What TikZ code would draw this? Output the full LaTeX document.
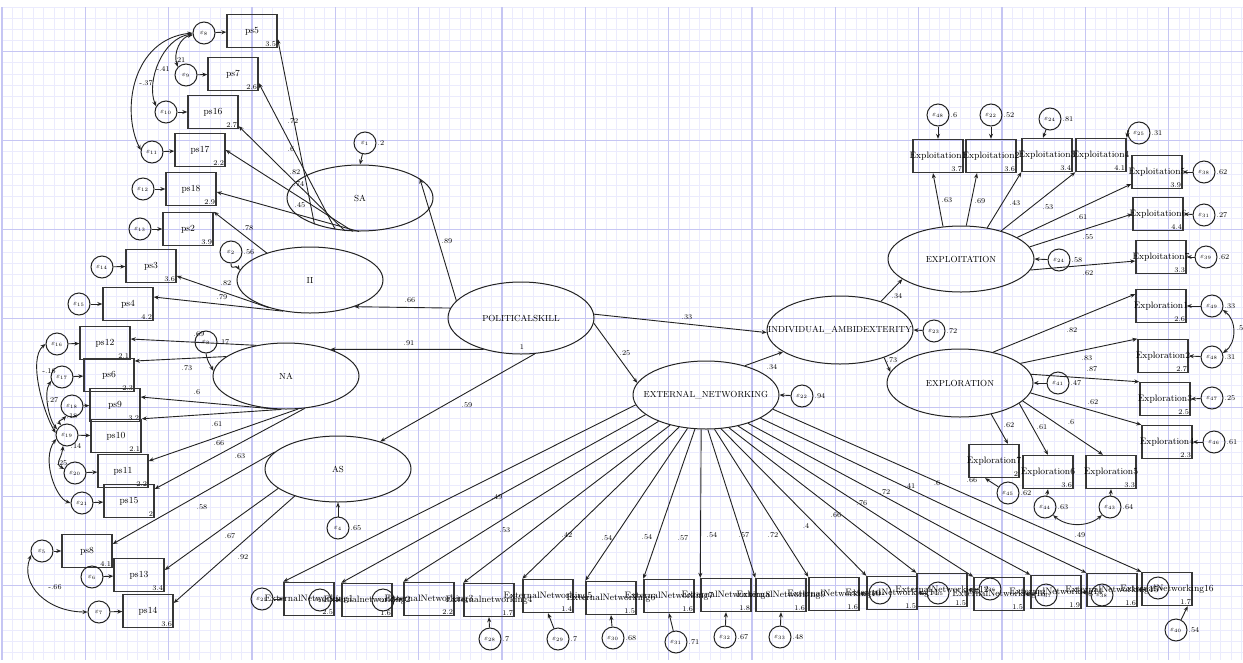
\documentclass[tikz,border=0pt]{standalone}
\usetikzlibrary{shapes.geometric,arrows.meta,calc}
\definecolor{gminor}{RGB}{235,235,253}
\definecolor{gmajor}{RGB}{198,198,243}
\definecolor{linec}{RGB}{35,35,35}
\definecolor{boxc}{RGB}{55,55,55}
\newcommand\mkob[4]{\node[obs,label={[num]south east:#4}] (#1) at (#2) {\makebox[0pt]{#3}};}
\newcommand\mker[4]{\node[err,label={[ev]east:#4}] (#1) at (#2) {$\varepsilon_{#3}$};}
\begin{document}
\begin{tikzpicture}[x=1pt,y=-1pt,
  lat/.style={draw=linec,line width=1pt,ellipse,minimum width=146pt,minimum height=66pt,inner sep=0pt},
  lattxt/.style={font=\fontsize{8.8}{10}\selectfont,inner sep=0pt},
  obs/.style={draw=boxc,line width=1.4pt,rectangle,minimum width=50pt,minimum height=33pt,inner sep=0pt,font=\fontsize{9.3}{10}\selectfont},
  num/.style={anchor=south east,inner sep=1.5pt,font=\fontsize{7.3}{8}\selectfont},
  err/.style={draw=linec,line width=1pt,circle,minimum size=22pt,inner sep=0pt,font=\fontsize{7}{8}\selectfont},
  lnk/.style={draw=linec,line width=0.9pt,-{Stealth[length=5pt,width=4pt]}},
  cov/.style={draw=linec,line width=0.9pt,{Stealth[length=5pt,width=4pt]}-{Stealth[length=5pt,width=4pt]}},
  val/.style={font=\fontsize{7.3}{8}\selectfont,inner sep=1pt},
  ev/.style={font=\fontsize{7.3}{8}\selectfont,inner sep=1pt,anchor=west}
]
\useasboundingbox (0,0) rectangle (1243,662);
\fill[white] (0,0) rectangle (1243,662);
% grid
\foreach \i in {0,...,119} \draw[gminor,line width=0.9pt] ({2+\i*10.41667},7) -- ({2+\i*10.41667},660);
\foreach \j in {0,...,58} \draw[gminor,line width=0.9pt] (2,{7.2+\j*11.125}) -- (1243,{7.2+\j*11.125});
\foreach \i in {0,...,14} \draw[gmajor,line width=1.1pt] ({2+\i*83.3333},7) -- ({2+\i*83.3333},660);
\foreach \k in {0,...,6} \draw[gmajor,line width=1.1pt] (2,{51.7+\k*89}) -- (1243,{51.7+\k*89});

% latent variables
\node[lat] (SA) at (360,198) {}; \node[lattxt] at (SA) {SA};
\node[lat] (II) at (310,280) {}; \node[lattxt] at (II) {II};
\node[lat] (NA) at (286,376) {}; \node[lattxt] at (NA) {NA};
\node[lat] (AS) at (338,469) {}; \node[lattxt] at (AS) {AS};
\node[lat,minimum height=72pt] (PS) at (521,318) {}; \node[lattxt] at (PS) {POLITICALSKILL};
\node[lat,minimum height=68pt] (EN) at (706,395) {}; \node[lattxt] at (EN) {EXTERNAL\_NETWORKING};
\node[lat,minimum height=68pt] (IA) at (840,330) {}; \node[lattxt] at (IA) {INDIVIDUAL\_AMBIDEXTERITY};
\node[lat] (XT) at (961,259) {}; \node[lattxt] at (XT) {EXPLOITATION};
\node[lat,minimum height=68pt] (XR) at (960,383) {}; \node[lattxt] at (XR) {EXPLORATION};

% political skill indicators
\mkob{ps5}{252,31}{ps5}{3.5}
\mkob{ps7}{233,74}{ps7}{2.6}
\mkob{ps16}{213,112}{ps16}{2.7}
\mkob{ps17}{200,150}{ps17}{2.2}
\mkob{ps18}{191,189}{ps18}{2.9}
\mkob{ps2}{188,229}{ps2}{3.9}
\mkob{ps3}{151,266}{ps3}{3.6}
\mkob{ps4}{128,304}{ps4}{4.2}
\mkob{ps12}{105,343}{ps12}{2.1}
\mkob{ps6}{109,375}{ps6}{2.3}
\mkob{ps9}{115,405}{ps9}{3.2}
\mkob{ps10}{116,436}{ps10}{2.1}
\mkob{ps11}{123,471}{ps11}{2.2}
\mkob{ps15}{129,501}{ps15}{2}
\mkob{ps8}{87,551}{ps8}{4.1}
\mkob{ps13}{139,575}{ps13}{3.4}
\mkob{ps14}{148,611}{ps14}{3.6}

\mker{e8}{204,33}{8}{}
\mker{e9}{186,75}{9}{}
\mker{e10}{166,112}{10}{}
\mker{e11}{152,152}{11}{}
\mker{e12}{143,189}{12}{}
\mker{e13}{140,229}{13}{}
\mker{e14}{102,267}{14}{}
\mker{e15}{79,304}{15}{}
\mker{e16}{57,344}{16}{}
\mker{e17}{62,377}{17}{}
\mker{e18}{72,406}{18}{}
\mker{e19}{67,435}{19}{}
\mker{e20}{75,473}{20}{}
\mker{e21}{82,503}{21}{}
\mker{e5}{42,551}{5}{}
\mker{e6}{92,577}{6}{}
\mker{e7}{99,612}{7}{}
\foreach \e/\b in {e8/ps5,e9/ps7,e10/ps16,e11/ps17,e12/ps18,e13/ps2,e14/ps3,e15/ps4,e16/ps12,e17/ps6,e18/ps9,e19/ps10,e20/ps11,e21/ps15,e5/ps8,e6/ps13,e7/ps14}
  \draw[lnk] (\e) -- (\b);

% latent errors
\mker{e1}{365,143}{1}{.2}
\mker{e2}{231,252}{2}{.56}
\mker{e3}{206,342}{3}{.17}
\mker{e4}{338,528}{4}{.65}
\draw[lnk] (e1) -- (SA.north);
\draw[lnk] (e2.south) .. controls +(0,8) and +(-4,-6) .. (II.172);
\draw[lnk] (e3.south) .. controls +(2,10) and +(-4,-8) .. (NA.176);
\draw[lnk] (e4) -- (AS.south);

% SA loadings
\draw[lnk] (SA.210) -- ($(ps5.east)+(0,8)$);
\draw[lnk] (SA.232) -- ($(ps7.east)+(0,9)$);
\draw[lnk] (SA.245) -- ($(ps16.south east)+(0,-3)$);
\draw[lnk] (SA.258) -- (ps17.east);
\draw[lnk] (SA.268) -- ($(ps18.east)+(0,3)$);
\node[val] at (293,121) {.72};
\node[val] at (291,149) {.6};
\node[val] at (295,172) {.82};
\node[val] at (299,184) {.74};
\node[val] at (300,205) {.45};

% II loadings
\draw[lnk] (II.148) -- (ps2.north east);
\draw[lnk] (II.214) -- ($(ps3.east)+(0,10)$);
\draw[lnk] (II.229) -- ($(ps4.east)+(0,-7)$);
\node[val] at (248,228) {.78};
\node[val] at (226,283) {.82};
\node[val] at (222,297) {.79};

% NA loadings
\draw[lnk] (NA.134) -- ($(ps12.east)+(0,-4)$);
\draw[lnk] (NA.162) -- ($(ps6.east)+(0,-14)$);
\draw[lnk] (NA.256) -- ($(ps9.east)+(0,-8)$);
\draw[lnk] (NA.262) -- (ps10.north east);
\draw[lnk] (NA.290) -- ($(ps11.east)+(0,-10)$);
\draw[lnk] (NA.300) -- ($(ps15.east)+(0,-12)$);
\node[val] at (199,334) {.69};
\node[val] at (187,368) {.73};
\node[val] at (197,392) {.6};
\node[val] at (217,424) {.61};
\node[val] at (219,443) {.66};
\node[val] at (240,456) {.63};

% AS loadings
\draw[lnk] (AS.165) -- ($(ps8.east)+(0,-7)$);
\draw[lnk] (AS.198) -- ($(ps13.east)+(0,-5)$);
\draw[lnk] (AS.212) -- ($(ps14.east)+(0,-8)$);
\node[val] at (202,507) {.58};
\node[val] at (230,536) {.67};
\node[val] at (243,557) {.92};

% correlations left
\draw[cov] (e8.190) .. controls +(-12,2) and +(-5,-14) .. (e9.135);
\draw[cov] (e8.185) .. controls +(-30,4) and +(-10,-25) .. (e10.150);
\draw[cov] (e8.180) .. controls +(-60,6) and +(-20,-40) .. (e11.170);
\node[val] at (180,60) {.21};
\node[val] at (163,69) {-.41};
\node[val] at (146,83) {-.37};
\draw[cov] (e16.180) .. controls +(-18,15) and +(-12,-20) .. (e19.170);
\draw[cov] (e17.200) .. controls +(-8,12) and +(-8,-10) .. (e19.150);
\draw[cov] (e18.240) .. controls +(-4,4) and +(-4,-4) .. (e19.120);
\draw[cov] (e19.250) .. controls +(-2,15) and +(-10,-6) .. (e20.160);
\draw[cov] (e19.200) .. controls +(-15,20) and +(-15,-5) .. (e21.180);
\node[val] at (49,371) {-.16};
\node[val] at (53,400) {.27};
\node[val] at (72,416) {.18};
\node[val] at (76,446) {.14};
\node[val] at (62,463) {.25};
\draw[cov] (e5.200) .. controls +(-12,30) and +(-40,0) .. (e7.west);
\node[val] at (55,587) {-.66};

% structural paths
\draw[lnk] (PS.165) -- (SA.18);
\draw[lnk] (PS.172) -- (II.-31);
\draw[lnk] (PS.220) -- (NA.31);
\draw[lnk] (PS.291) -- (AS.33);
\draw[lnk] (PS.3) -- (IA.182);
\draw[lnk] (PS.-4) -- (EN.170);
\draw[lnk] (EN.37) -- (IA.201);
\draw[lnk] (IA.35) -- (XT.199);
\draw[lnk] (IA.-32) -- (XR.171);
\node[val] at (447,241) {.89};
\node[val] at (410,300) {.66};
\node[val] at (409,343) {.91};
\node[val] at (522,347) {1};
\node[val] at (467,405) {.59};
\node[val] at (687,317) {.33};
\node[val] at (625,353) {.25};
\node[val] at (772,367) {.34};
\node[val] at (897,296) {.34};
\node[val] at (892,360) {.73};

\mker{eEN}{802,396}{22}{.94}
\mker{eIA}{934,331}{23}{.72}
\mker{eXT}{1059,260}{24}{.58}
\mker{eXR}{1058,383}{41}{.47}
\draw[lnk] (eEN) -- (EN.east);
\draw[lnk] (eIA) -- (IA.east);
\draw[lnk] (eXT) -- (XT.east);
\draw[lnk] (eXR) -- (XR.east);

% exploitation
\mkob{T1}{938,156}{Exploitation1}{3.7}
\mkob{T2}{991,156}{Exploitation2}{3.6}
\mkob{T3}{1047,155}{Exploitation3}{3.4}
\mkob{T4}{1101,155}{Exploitation4}{4.1}
\mkob{T5}{1157,172}{Exploitation5}{3.9}
\mkob{T6}{1158,214}{Exploitation6}{4.4}
\mkob{T7}{1161,257}{Exploitation7}{3.3}
\mker{eT1}{938,115}{48}{.6}
\mker{eT2}{991,115}{22}{.52}
\mker{eT3}{1050,119}{24}{.81}
\mker{eT4}{1139,133}{25}{.31}
\mker{eT5}{1204,172}{38}{.62}
\mker{eT6}{1204,215}{31}{.27}
\mker{eT7}{1206,257}{39}{.62}
\draw[lnk] (eT1) -- (T1.north);
\draw[lnk] (eT2) -- (T2.north);
\draw[lnk] (eT3) -- ($(T3.north)+(-4,0)$);
\draw[lnk] (eT4.165) -- (T4.north east);
\draw[lnk] (eT5) -- (T5.east);
\draw[lnk] (eT6) -- (T6.east);
\draw[lnk] (eT7) -- (T7.east);
\draw[lnk] (XT.119) -- ($(T1.south)+(-5,0)$);
\draw[lnk] (XT.81) -- ($(T2.south)+(-14,0)$);
\draw[lnk] (XT.50) -- (T3.south west);
\draw[lnk] (XT.35) -- (T4.south west);
\draw[lnk] (XT.21) -- ($(T5.west)+(0,12)$);
\draw[lnk] (XT.10) -- (T6.west);
\draw[lnk] (XT.-9) -- ($(T7.west)+(0,4)$);
\node[val] at (947,200) {.63};
\node[val] at (980,201) {.69};
\node[val] at (1015,203) {.43};
\node[val] at (1048,207) {.53};
\node[val] at (1082,217) {.61};
\node[val] at (1088,237) {.55};
\node[val] at (1088,273) {.62};

% exploration
\mkob{R1}{1161,306}{Exploration1}{2.6}
\mkob{R2}{1163,356}{Exploration2}{2.7}
\mkob{R3}{1165,399}{Exploration3}{2.5}
\mkob{R4}{1167,442}{Exploration4}{2.3}
\mkob{R7}{994,461}{Exploration7}{2}
\mkob{R6}{1048,472}{Exploration6}{3.6}
\mkob{R5}{1111,472}{Exploration5}{3.3}
\mker{eR1}{1212,306}{49}{.33}
\mker{eR2}{1212,357}{48}{.31}
\mker{eR3}{1212,398}{47}{.25}
\mker{eR4}{1214,442}{46}{.61}
\mker{eR7}{1008,493}{45}{.62}
\mker{eR6}{1045,507}{44}{.63}
\mker{eR5}{1110,507}{43}{.64}
\draw[lnk] (eR1) -- (R1.east);
\draw[lnk] (eR2) -- (R2.east);
\draw[lnk] (eR3) -- (R3.east);
\draw[lnk] (eR4) -- (R4.east);
\draw[lnk] (eR7) -- ($(R7.south)+(-9,0)$);
\draw[lnk] (eR6) -- (R6.south);
\draw[lnk] (eR5) -- (R5.south);
\node[val] at (972,480) {.66};
\draw[cov] (eR1.-20) .. controls +(14,10) and +(14,-10) .. (eR2.20);
\node[val] at (1240,328) {.5};
\draw[cov] (eR6.-45) .. controls +(14,12) and +(-14,12) .. (eR5.225);
\draw[lnk] (XR.43) -- ($(R1.west)+(0,-12)$);
\draw[lnk] (XR.18) -- (R2.north west);
\draw[lnk] (XR.7) -- (R3.north west);
\draw[lnk] (XR.-8) -- (R4.north west);
\draw[lnk] (XR.-45) -- ($(R7.north)+(14,0)$);
\draw[lnk] (XR.-19) -- (R6.north);
\draw[lnk] (XR.-16) -- ($(R5.north)+(-8,0)$);
\node[val] at (1072,330) {.82};
\node[val] at (1087,358) {.83};
\node[val] at (1092,369) {.87};
\node[val] at (1093,402) {.62};
\node[val] at (1009,425) {.62};
\node[val] at (1042,427) {.61};
\node[val] at (1071,422) {.6};

% external networking indicators
\mkob{N1}{309,599}{ExternalNetworking1}{2.5}
\mkob{N2}{367,600}{Externalnetworking2}{1.6}
\mkob{N3}{429,599}{ExternalNetworking3}{2.2}
\mkob{N4}{489,600}{Externalnetworking4}{1.7}
\mkob{N5}{548,596}{ExternalNetworking5}{1.4}
\mkob{N6}{611,598}{ExternalNetworking6}{1.5}
\mkob{N7}{669,596}{ExternalNetworking7}{1.6}
\mkob{N8}{726,595}{ExternalNetworking8}{1.8}
\mkob{N9}{781,595}{ExternalNetworking9}{1.6}
\mkob{N10}{834,594}{ExternalNetworking10}{1.6}
\mkob{N11}{892,593}{ExternalNetworking11}{1.5}
\mkob{N12}{942,590}{ExternalNetworking12}{1.5}
\mkob{N13}{999,594}{ExternalNetworking13}{1.5}
\mkob{N14}{1056,592}{ExternalNetworking14}{1.9}
\mkob{N15}{1112,590}{ExternalNetworking15}{1.6}
\mkob{N16}{1167,589}{ExternalNetworking16}{1.7}
\foreach \i in {1,...,16}
  \draw[lnk] (EN.{188+(\i-1)*10.67}) -- (N\i.north west);
\mker{eN1}{262,599}{25}{}
\mker{eN2}{320,600}{26}{}
\mker{eN3}{383,600}{27}{}
\mker{eN4}{490,639}{28}{.7}
\mker{eN5}{558,639}{29}{.7}
\mker{eN6}{613,638}{30}{.68}
\mker{eN7}{676,642}{31}{.71}
\mker{eN8}{725,637}{32}{.67}
\mker{eN9}{780,637}{33}{.48}
\mker{eN10}{880,593}{34}{}
\mker{eN11}{938,593}{35}{}
\mker{eN12}{990,589}{36}{}
\mker{eN13}{1046,595}{37}{}
\mker{eN14}{1102,595}{38}{}
\mker{eN15}{1158,588}{39}{}
\mker{eN16}{1176,630}{40}{.54}
\foreach \i in {1,2,3} \draw[lnk] (eN\i) -- (N\i.west);
\foreach \i in {4,...,9} \draw[lnk] (eN\i) -- (N\i.south);
\foreach \i in {10,...,15} \draw[lnk] (eN\i) -- (N\i.east);
\draw[lnk] (eN16) -- ($(N16.south east)+(-5,0)$);
\node[val] at (497,497) {.49};
\node[val] at (505,530) {.53};
\node[val] at (567,535) {.42};
\node[val] at (607,538) {.54};
\node[val] at (647,537) {.54};
\node[val] at (683,538) {.57};
\node[val] at (712,535) {.54};
\node[val] at (744,535) {.57};
\node[val] at (773,535) {.72};
\node[val] at (806,526) {.4};
\node[val] at (836,515) {.66};
\node[val] at (862,503) {.76};
\node[val] at (885,492) {.72};
\node[val] at (910,486) {.41};
\node[val] at (937,483) {.6};
\node[val] at (1080,535) {.49};
\end{tikzpicture}
\end{document}
